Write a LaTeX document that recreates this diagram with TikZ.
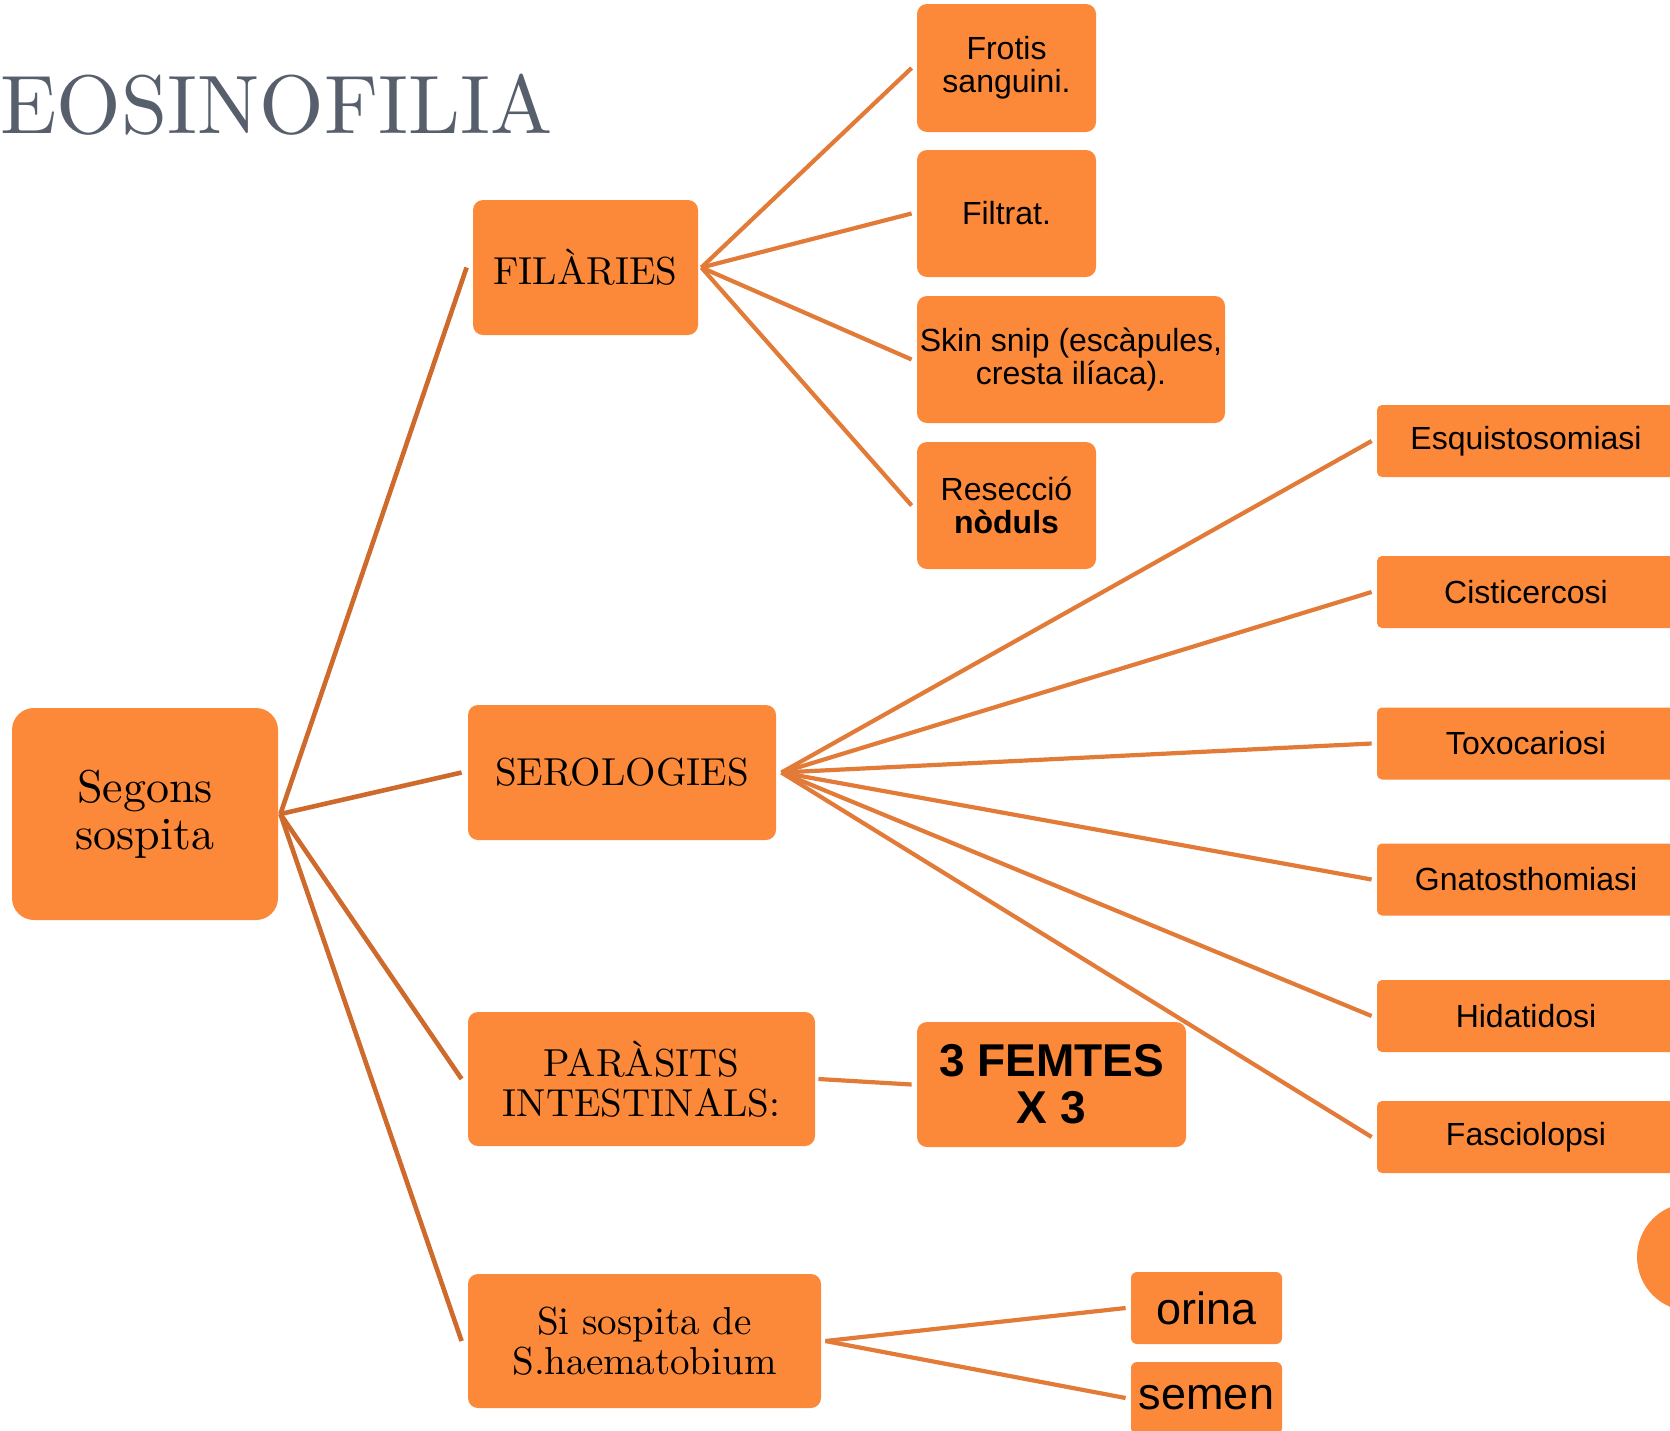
\documentclass[tikz,border=0pt]{standalone}
\usepackage{fontspec}
\setmainfont{lmroman10-regular}[Extension=.otf, BoldFont=lmroman10-bold, ItalicFont=lmroman10-italic]
\newfontfamily\arial{Liberation Sans}
\definecolor{boxorange}{RGB}{252,137,57}
\definecolor{linkdark}{RGB}{205,106,44}
\definecolor{linklight}{RGB}{226,122,56}
\definecolor{titlegray}{RGB}{87,95,109}
\begin{document}
\begin{tikzpicture}[x=0.5pt,y=-0.5pt,
  box/.style={fill=boxorange, draw=none, rounded corners=5pt, inner sep=0pt, align=center, text=black},
  bigbox/.style={box, rounded corners=11pt, font=\fontsize{23}{23.5}\selectfont},
  lvlone/.style={box, font=\fontsize{19.5}{20.25}\selectfont},
  smallbox/.style={box, font=\arial\fontsize{16}{16.5}\selectfont},
  leafbox/.style={box, rounded corners=2.5pt, minimum width=149pt, minimum height=36pt, font=\arial\fontsize{16}{16.5}\selectfont},
  tallbox/.style={box, rounded corners=3pt, minimum width=75.5pt, minimum height=36pt, font=\arial\fontsize{22.5}{23}\selectfont},
  linkA/.style={draw=linkdark, line width=2.3pt},
  linkB/.style={draw=linklight, line width=2.1pt}]
\useasboundingbox (0,0) rectangle (1670,1430);

% title
\node[anchor=base west, inner sep=0pt, text=titlegray, font=\fontsize{41.5}{44}\selectfont] (title) at (0,133) {EOSINOFILIA};

% root
\node[bigbox, minimum width=133pt, minimum height=106pt] (seg) at (145,814) {Segons\\sospita};

% level one
\node[lvlone, minimum width=112.5pt, minimum height=67.5pt] (fil) at (585.5,267.5) {FILÀRIES};
\node[lvlone, minimum width=154pt, minimum height=67.5pt] (ser) at (622,772.5) {SEROLOGIES};
\node[lvlone, minimum width=173.5pt, minimum height=67pt] (par) at (641.5,1079) {PARÀSITS\\INTESTINALS:};
\node[lvlone, minimum width=176.5pt, minimum height=67pt] (si) at (644.5,1341) {Si sospita de\\S.haematobium};

% filaries children
\node[smallbox, minimum width=89.5pt, minimum height=64pt] (frotis) at (1006.5,68) {Frotis\\sanguini.};
\node[smallbox, minimum width=89.5pt, minimum height=63.5pt] (filtrat) at (1006.5,213.5) {Filtrat.};
\node[smallbox, minimum width=154pt, minimum height=63.5pt] (skin) at (1071,359.5) {Skin snip (escàpules,\\cresta ilíaca).};
\node[smallbox, minimum width=89.5pt, minimum height=63.5pt] (resec) at (1006.5,505.5) {Resecció\\\textbf{nòduls}};

% serologies children
\node[leafbox] (esq) at (1526,441) {Esquistosomiasi};
\node[leafbox] (cis) at (1526,592) {Cisticercosi};
\node[leafbox] (tox) at (1526,743.5) {Toxocariosi};
\node[leafbox] (gna) at (1526,879.5) {Gnatosthomiasi};
\node[leafbox] (hid) at (1526,1016) {Hidatidosi};
\node[leafbox] (fas) at (1526,1137) {Fasciolopsi};

% parasits child
\node[box, minimum width=134.5pt, minimum height=62.5pt, font=\arial\bfseries\fontsize{23}{23.5}\selectfont] (femtes) at (1051.5,1084.5) {3 FEMTES\\X 3};

% haematobium children
\node[tallbox] (orina) at (1206.5,1308) {orina};
\node[tallbox] (semen) at (1206.5,1398) {semen};

% decorative circle
\fill[boxorange] (1691,1257) circle[radius=54];

% connectors
\coordinate (segv) at ([xshift=1pt]seg.east);
\foreach \t in {fil,ser,par,si}
  \draw[linkA] (segv) -- ([xshift=-3pt]\t.west);

\coordinate (filv) at ([xshift=1.5pt]fil.east);
\foreach \t in {frotis,filtrat,skin,resec}
  \draw[linkB] (filv) -- ([xshift=-2.5pt]\t.west);

\coordinate (serv) at ([xshift=2.5pt]ser.east);
\foreach \t in {esq,cis,tox,gna,hid,fas}
  \draw[linkB] (serv) -- ([xshift=-2.5pt]\t.west);

\draw[linkB] ([xshift=1.5pt]par.east) -- ([xshift=-2.5pt]femtes.west);

\coordinate (siv) at ([xshift=2pt]si.east);
\foreach \t in {orina,semen}
  \draw[linkB] (siv) -- ([xshift=-2.5pt]\t.west);
\end{tikzpicture}
\end{document}
